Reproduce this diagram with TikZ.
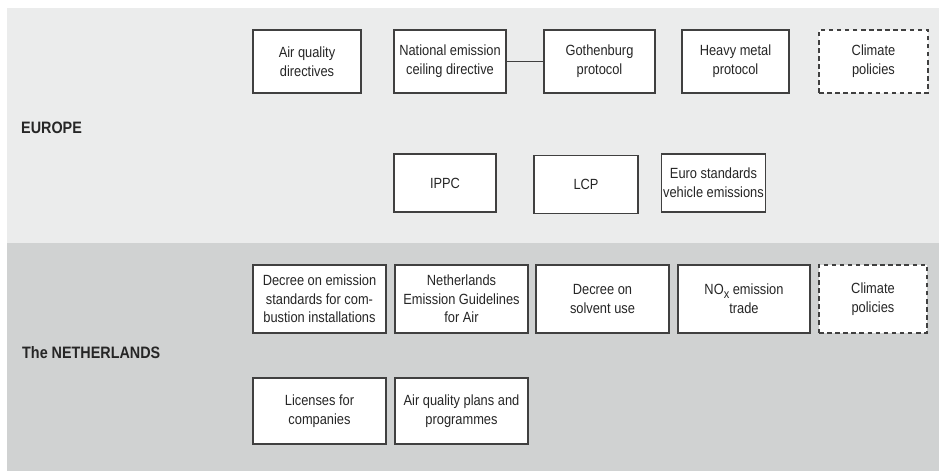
\documentclass[tikz,border=0pt]{standalone}
\usepackage{fontspec}
\setmainfont{Liberation Sans}[FakeStretch=0.87]
\definecolor{eubg}{HTML}{EBECEC}
\definecolor{nlbg}{HTML}{D0D2D2}
\definecolor{boxline}{HTML}{404040}
\newcommand{\lowx}{\raisebox{-0.45ex}{\fontsize{7.2}{8}\selectfont x}}
\tikzset{
  policy/.style={draw=boxline, line width=0.6pt, fill=white, align=center,
    inner sep=1pt, text=black!85, font=\fontsize{8.4}{10.6}\selectfont},
  future/.style={policy, dashed, dash pattern=on 2.6pt off 2pt},
  region/.style={anchor=west, font=\fontsize{9.4}{10}\selectfont\bfseries, text=black!85}
}
\begin{document}
\begin{tikzpicture}
\useasboundingbox (0,0) rectangle (18.78,9.42);
\fill[eubg] (0.14,4.56) rectangle (18.78,9.26);
\fill[nlbg] (0.14,0) rectangle (18.78,4.56);
\node[region] (europe) at (0.3,6.86) {EUROPE};
\node[region] (nl) at (0.32,2.36) {The NETHERLANDS};
% Europe
\node[policy, minimum width=2.16cm, minimum height=1.26cm] (aqd) at (6.14,8.19) {Air quality\\directives};
\node[policy, minimum width=2.24cm, minimum height=1.26cm] (necd) at (9.00,8.19) {National emission\\ceiling directive};
\node[policy, minimum width=2.22cm, minimum height=1.26cm] (gbg) at (11.99,8.19) {Gothenburg\\protocol};
\node[policy, minimum width=2.14cm, minimum height=1.26cm] (hmp) at (14.71,8.19) {Heavy metal\\protocol};
\node[future, minimum width=2.18cm, minimum height=1.26cm] (climeu) at (17.47,8.19) {Climate\\policies};
\draw[boxline, line width=0.6pt] (necd) -- (gbg);
\node[policy, minimum width=2.04cm, minimum height=1.16cm] (ippc) at (8.90,5.76) {IPPC};
\node[policy, minimum width=2.08cm, minimum height=1.16cm] (lcp) at (11.72,5.73) {LCP};
\node[policy, minimum width=2.06cm, minimum height=1.16cm] (euro) at (14.27,5.76) {Euro standards\\vehicle emissions};
% Netherlands
\node[policy, minimum width=2.66cm, minimum height=1.36cm] (bees) at (6.39,3.44) {Decree on emission\\standards for com-\\bustion installations};
\node[policy, minimum width=2.66cm, minimum height=1.36cm] (ner) at (9.23,3.44) {Netherlands\\Emission Guidelines\\for Air};
\node[policy, minimum width=2.66cm, minimum height=1.36cm] (solv) at (12.05,3.44) {Decree on\\solvent use};
\node[policy, minimum width=2.64cm, minimum height=1.36cm] (nox) at (14.88,3.44) {NO\lowx{} emission\\trade};
\node[future, minimum width=2.16cm, minimum height=1.36cm] (climnl) at (17.46,3.44) {Climate\\policies};
\node[policy, minimum width=2.66cm, minimum height=1.32cm] (lic) at (6.39,1.20) {Licenses for\\companies};
\node[policy, minimum width=2.66cm, minimum height=1.32cm] (aqp) at (9.23,1.20) {Air quality plans and\\programmes};
\end{tikzpicture}
\end{document}
